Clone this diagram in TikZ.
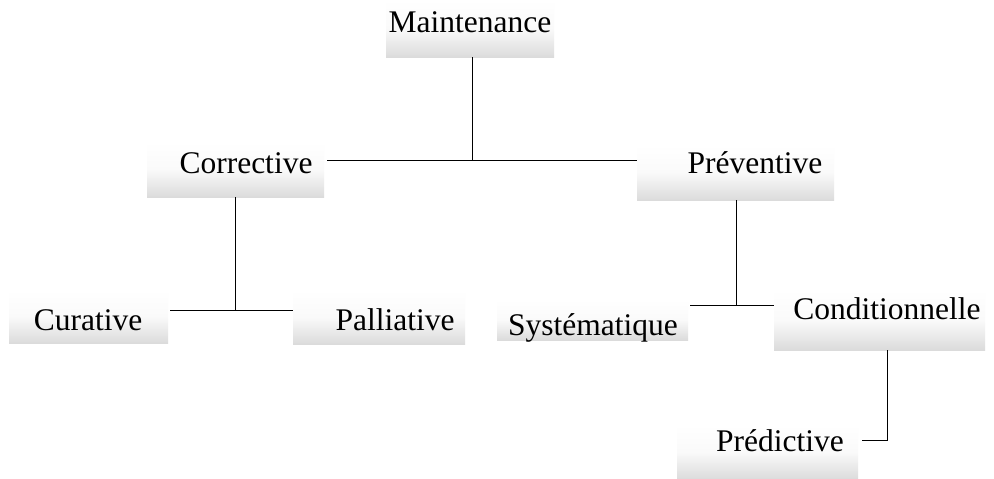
\documentclass[tikz,border=0pt]{standalone}
\usepackage{fontspec}
\setmainfont{Liberation Serif}
\begin{document}
\begin{tikzpicture}[x=1pt,y=-1pt,
  box/.style={draw=none,inner sep=0pt,top color=white,bottom color=black!14,middle color=black!2},
  lbl/.style={anchor=base,inner sep=0pt,font=\fontsize{31.5}{38}\selectfont},
  conn/.style={draw=black,line width=1pt}]
\useasboundingbox[fill=white] (0,0) rectangle (994,479);
% boxes
\node[box,minimum width=168pt,minimum height=57pt] (M) at (470,28.5) {};
\node[box,minimum width=177pt,minimum height=55pt] (C) at (235.5,169.5) {};
\node[box,minimum width=197pt,minimum height=55pt] (P) at (735.5,172.5) {};
\node[box,minimum width=159pt,minimum height=53pt] (Cu) at (88.5,316.5) {};
\node[box,minimum width=172pt,minimum height=54pt] (Pa) at (379,317) {};
\node[box,minimum width=191pt,minimum height=40pt] (S) at (592.5,320) {};
\node[box,minimum width=211pt,minimum height=60pt] (Co) at (879.5,320) {};
\node[box,minimum width=181pt,minimum height=54pt] (Pr) at (767.5,452) {};
% labels
\node[lbl] (tM) at (470,32) {Maintenance};
\node[lbl] (tC) at (246,173) {Corrective};
\node[lbl] (tP) at (755,173) {Préventive};
\node[lbl] (tCu) at (88,330) {Curative};
\node[lbl] (tPa) at (395,330) {Palliative};
\node[lbl] (tS) at (593,335) {Systématique};
\node[lbl] (tCo) at (887,319) {Conditionnelle};
\node[lbl] (tPr) at (780,451) {Prédictive};
% junctions
\coordinate (j1) at (472,160);
\coordinate (j2) at (235,310);
\coordinate (j3) at (736,305);
\coordinate (j4) at (887,440);
% connectors
\draw[conn] (j1 |- M.south) -- (j1);
\draw[conn] ([xshift=3pt]C.east |- j1) -- (P.west |- j1);
\draw[conn] (j2 |- C.south) -- (j2);
\draw[conn] ([xshift=2pt]Cu.east |- j2) -- (Pa.west |- j2);
\draw[conn] (j3 |- P.south) -- (j3);
\draw[conn] ([xshift=2pt]S.east |- j3) -- (Co.west |- j3);
\draw[conn] (j4 |- Co.south) -- (j4) -- ([xshift=4pt]Pr.east |- j4);
\end{tikzpicture}
\end{document}
